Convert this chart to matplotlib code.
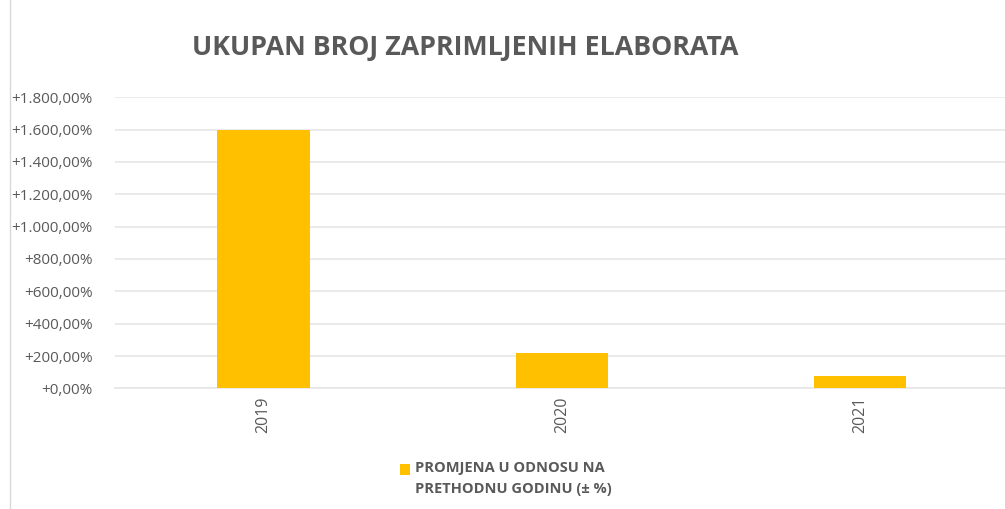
import numpy as np
import matplotlib.pyplot as plt
from matplotlib.lines import Line2D
from matplotlib.patches import Rectangle

plt.rcParams["font.family"] = ["Open Sans", "DejaVu Sans"]

years = ["2019", "2020", "2021"]
change_pct = [1600.0, 218.0, 77.0]
y_ticks = [0, 200, 400, 600, 800, 1000, 1200, 1400, 1600, 1800]
series_label = "PROMJENA U ODNOSU NA\nPRETHODNU GODINU (± %)"

BAR_COLOR = "#FFC000"
TEXT_COLOR = "#595959"
GRID_COLOR = "#E6E6E6"


def fmt_pct(v):
    # Croatian style: dot for thousands, comma for decimals
    s = f"{v:,.2f}".replace(",", "X").replace(".", ",").replace("X", ".")
    return "+" + s + "%"


def main():
    fig = plt.figure(figsize=(10.05, 5.09), dpi=100)
    ax = fig.add_axes([0.114, 0.237, 0.89, 0.572])

    x = np.arange(len(years))
    ax.bar(x, change_pct, width=0.31, color=BAR_COLOR, zorder=3)

    ax.set_xlim(-0.5, len(years) - 0.5)
    ax.set_ylim(0, 1800)
    ax.set_yticks(y_ticks)
    ax.set_yticklabels([fmt_pct(v) for v in y_ticks], fontsize=11, color=TEXT_COLOR)
    ax.set_xticks(x)
    ax.set_xticklabels(years, rotation=90, fontsize=11.5, color=TEXT_COLOR)
    ax.tick_params(length=0, pad=6)
    ax.tick_params(axis="y", pad=16)

    ax.grid(axis="y", color=GRID_COLOR, linewidth=1.2, zorder=0)
    for side in ["top", "right", "left"]:
        ax.spines[side].set_visible(False)
    ax.spines["bottom"].set_color(GRID_COLOR)
    ax.spines["bottom"].set_linewidth(1.2)

    fig.text(0.463, 0.905, "UKUPAN BROJ ZAPRIMLJENIH ELABORATA", ha="center", va="center",
             fontsize=19.3, fontweight="bold", color=TEXT_COLOR)

    # legend: key square next to the first line of the label
    fig.add_artist(Rectangle((0.398, 0.067), 0.01, 0.0216, transform=fig.transFigure,
                             facecolor=BAR_COLOR, edgecolor="none"))
    fig.text(0.413, 0.095, series_label, ha="left", va="top", fontsize=10.5,
             fontweight="bold", color=TEXT_COLOR, linespacing=1.65)

    # thin border on the left edge of the chart area
    fig.add_artist(Line2D([0.01, 0.01], [0, 1], transform=fig.transFigure,
                          color="#D9D9D9", linewidth=1))

    fig.savefig("out.png", dpi=100, facecolor="white")


if __name__ == "__main__":
    main()
